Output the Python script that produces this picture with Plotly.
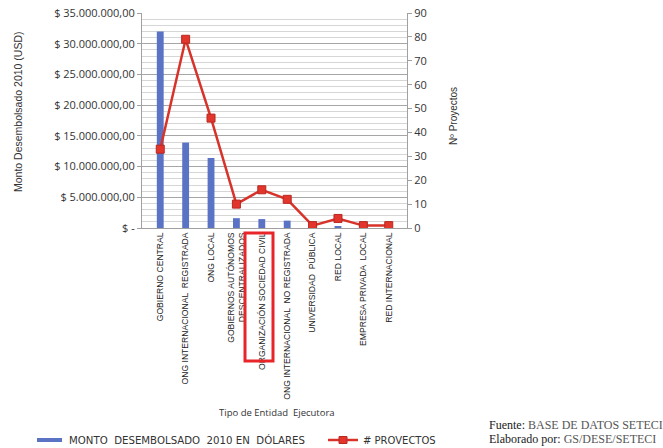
import plotly.graph_objects as go

categories = [
    "GOBIERNO CENTRAL",
    "ONG INTERNACIONAL  REGISTRADA",
    "ONG LOCAL",
    "GOBIERNOS AUTÓNOMOS<br>DESCENTRALIZADOS",
    "ORGANIZACIÓN SOCIEDAD CIVIL",
    "ONG INTERNACIONAL  NO REGISTRADA",
    "UNIVERSIDAD  PÚBLICA",
    "RED LOCAL",
    "EMPRESA PRIVADA  LOCAL",
    "RED INTERNACIONAL",
]
monto = [32.0e6, 13.9e6, 11.4e6, 1.6e6, 1.45e6, 1.2e6, 0.02e6, 0.3e6, 0.05e6, 0.03e6]
proyectos = [33, 79, 46, 10, 16, 12, 1, 4, 1, 1]

left_tickvals = [0, 5e6, 10e6, 15e6, 20e6, 25e6, 30e6, 35e6]
left_ticktext = ["$ -", "$ 5.000.000,00", "$ 10.000.000,00", "$ 15.000.000,00",
                 "$ 20.000.000,00", "$ 25.000.000,00", "$ 30.000.000,00", "$ 35.000.000,00"]

BLUE = "#5B73C4"
RED = "#D8332A"
NARROW = "Liberation Sans"

fig = go.Figure()
fig.add_trace(go.Bar(x=categories, y=monto, name="MONTO DESEMBOLSADO 2010 EN DÓLARES",
                     marker=dict(color=BLUE, line=dict(width=0)), yaxis="y"))
fig.add_trace(go.Scatter(x=categories, y=proyectos, name="# PROVECTOS", mode="lines+markers",
                         line=dict(color=RED, width=2.5),
                         marker=dict(symbol="square", size=8, color="#E2362C",
                                     line=dict(color="#B82820", width=1)),
                         yaxis="y2"))

W, H = 663, 448
L, R, T, B = 142, 407, 13, 228
pw, ph = R - L, B - T


def px(x):
    return (x - L) / pw


def py(y):
    return (B - y) / ph


shapes = [
    # highlight box
    dict(type="rect", xref="paper", yref="paper", x0=px(245), x1=px(273), y0=py(233), y1=py(361),
         line=dict(color="#E8262A", width=3), fillcolor="rgba(0,0,0,0)"),
    # legend: bar swatch
    dict(type="rect", xref="paper", yref="paper", x0=px(37), x1=px(62), y0=py(442), y1=py(438),
         line=dict(width=0), fillcolor=BLUE),
    # legend: line swatch
    dict(type="line", xref="paper", yref="paper", x0=px(328), x1=px(358), y0=py(440), y1=py(440),
         line=dict(color=RED, width=2.5)),
    dict(type="rect", xref="paper", yref="paper", x0=px(339), x1=px(347), y0=py(443.5), y1=py(436.5),
         line=dict(color="#B82820", width=1), fillcolor="#E2362C"),
]

annotations = [
    dict(xref="paper", yref="paper", x=px(67), y=py(440), xanchor="left", yanchor="middle",
         text="MONTO  DESEMBOLSADO  2010 EN  DÓLARES", showarrow=False,
         font=dict(family="DejaVu Sans", size=10.2, color="#333333")),
    dict(xref="paper", yref="paper", x=px(361), y=py(440), xanchor="left", yanchor="middle",
         text="# PROVECTOS", showarrow=False,
         font=dict(family="DejaVu Sans", size=10, color="#333333")),
    dict(xref="paper", yref="paper", x=px(487), y=py(425), xanchor="left", yanchor="middle",
         text="<span style='color:#1a1a1a'>Fuente:</span> BASE DE DATOS SETECI", showarrow=False,
         font=dict(family="Liberation Serif", size=12, color="#555555")),
    dict(xref="paper", yref="paper", x=px(487), y=py(438.5), xanchor="left", yanchor="middle",
         text="<span style='color:#1a1a1a'>Elaborado por:</span> GS/DESE/SETECI", showarrow=False,
         font=dict(family="Liberation Serif", size=12, color="#555555")),
    dict(xref="paper", yref="paper", x=px(277), y=py(412), xanchor="center", yanchor="middle",
         text="Tipo de Entidad  Ejecutora", showarrow=False,
         font=dict(family="Open Sans", size=9.5, color="#333333")),
    dict(xref="paper", yref="paper", x=px(18), y=py(112), xanchor="center", yanchor="middle",
         text="Monto Desembolsado 2010 (USD)", textangle=-90, showarrow=False,
         font=dict(family=NARROW, size=10.5, color="#333333")),
    dict(xref="paper", yref="paper", x=px(453), y=py(116), xanchor="center", yanchor="middle",
         text="Nº Proyectos", textangle=-90, showarrow=False,
         font=dict(family=NARROW, size=10, color="#333333")),
]

fig.update_layout(
    width=W, height=H,
    margin=dict(l=L, r=W - R, t=T, b=H - B, autoexpand=False),
    paper_bgcolor="white", plot_bgcolor="white",
    showlegend=False,
    bargap=0.73,
    xaxis=dict(
        tickangle=-90, tickfont=dict(family=NARROW, size=8.6, color="#222222"),
        showline=True, linecolor="#A0A0A0", linewidth=1, showgrid=False,
        ticks="", automargin=False, mirror=False,
    ),
    yaxis=dict(
        range=[0, 35e6], tickvals=left_tickvals, ticktext=left_ticktext,
        tickfont=dict(family="Open Sans", size=11, color="#333333"),
        showline=True, linecolor="#A0A0A0", linewidth=1,
        ticks="outside", ticklen=4, tickcolor="#A0A0A0",
        showgrid=True, gridcolor="#A6A6A6", gridwidth=1,
        minor=dict(dtick=1e6, showgrid=True, gridcolor="#D6D6D6", gridwidth=1),
        zeroline=False, automargin=False,
    ),
    yaxis2=dict(
        range=[0, 90], dtick=10, overlaying="y", side="right",
        tickfont=dict(family="Open Sans", size=11, color="#333333"),
        showline=True, linecolor="#A0A0A0", linewidth=1,
        ticks="outside", ticklen=4, tickcolor="#A0A0A0",
        showgrid=False, zeroline=False, automargin=False,
    ),
    shapes=shapes,
    annotations=annotations,
)

fig.write_html("out.html")
